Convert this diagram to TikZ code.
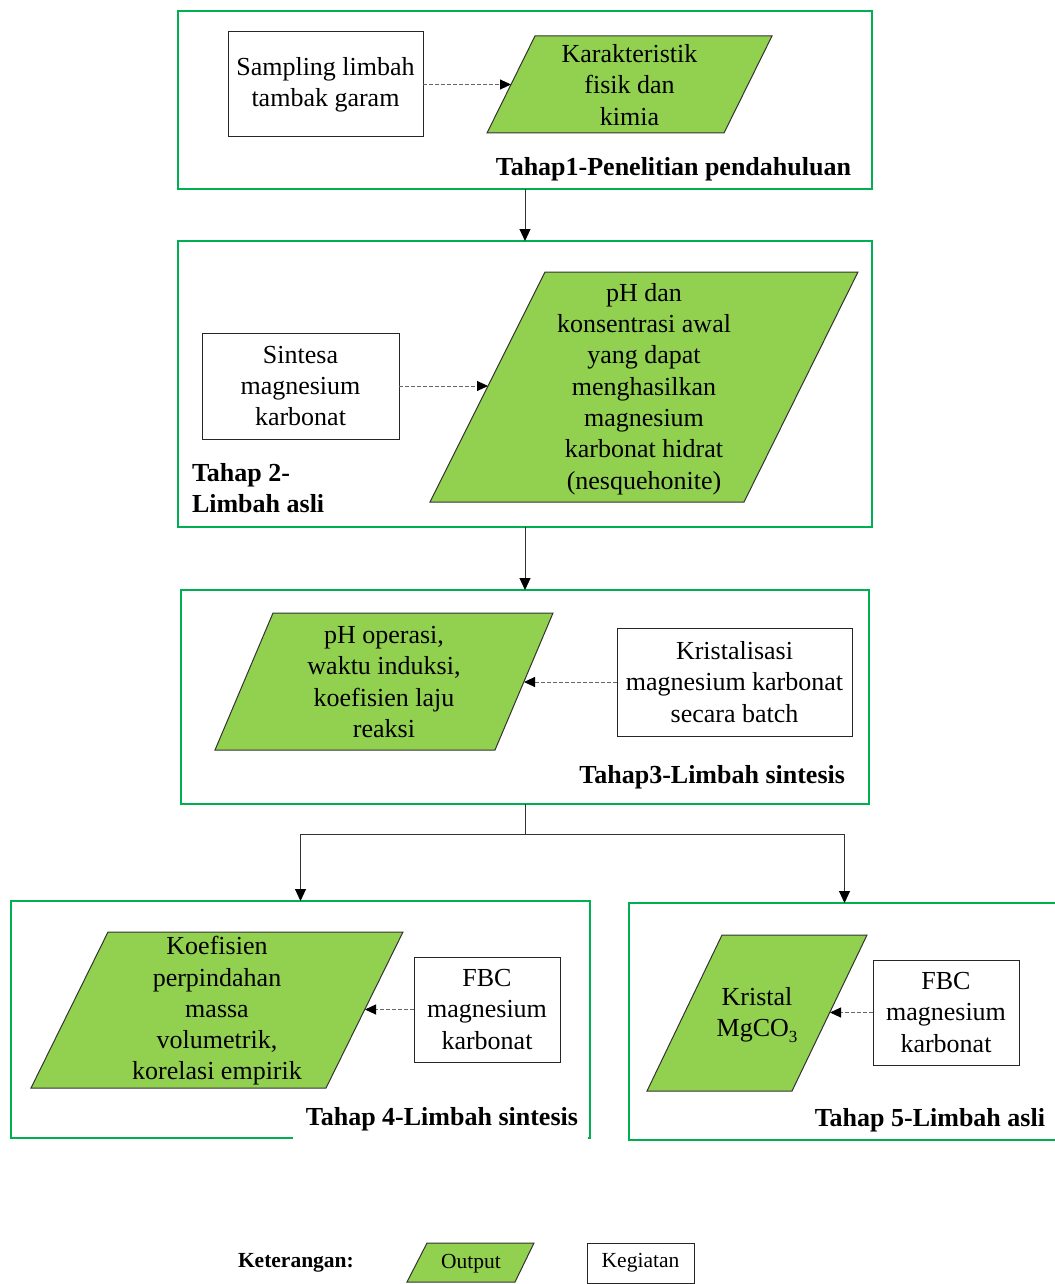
\documentclass[tikz,border=0pt]{standalone}
\usepackage{fontspec}
\setmainfont{Liberation Serif}
\usetikzlibrary{arrows.meta}
\definecolor{outfill}{HTML}{92D050}
\definecolor{framegreen}{HTML}{00B050}
\begin{document}
\begin{tikzpicture}[x=1pt,y=-1pt,
  every node/.style={font=\fontsize{26}{31.3}\selectfont, inner sep=0pt, outer sep=0pt},
  frame/.style={draw=framegreen, line width=2.6pt},
  act/.style={draw=black!85, line width=1pt, fill=white, align=center},
  outp/.style={draw=black!80, line width=1pt, fill=outfill},
  otext/.style={align=center},
  lbl/.style={font=\fontsize{26}{31}\selectfont\bfseries},
  small/.style={font=\fontsize{21.5}{25}\selectfont},
  flow/.style={-{Triangle[length=12pt,width=11pt,black]}, line width=1pt, draw=black!80},
  link/.style={line width=1pt, draw=black!80},
  dflow/.style={-{Triangle[length=11pt,width=10pt,black]}, dash pattern=on 4pt off 2pt, line width=0.9pt, draw=black!60},
]
\useasboundingbox (0,0) rectangle (1054,1284);

% stage frames
\node[frame, minimum width=694, minimum height=178] (f1) at (525,100) {};
\node[frame, minimum width=694, minimum height=286] (f2) at (525,384) {};
\node[frame, minimum width=688, minimum height=214] (f3) at (525,697) {};
\node[frame, minimum width=579, minimum height=237] (f4) at (300.5,1019.5) {};
\node[frame, minimum width=431, minimum height=237] (f5) at (844.5,1021.5) {};

% Stage 1
\node[act, minimum width=195, minimum height=105] (r1) at (325.5,84.5) {\raisebox{-2pt}{\parbox{190pt}{\centering Sampling limbah\\tambak garam}}};
\filldraw[outp] (535,36) -- (772,36) -- (724,133) -- (487,133) -- cycle;
\node[otext] (p1) at (629.5,85) {Karakteristik\\fisik dan\\kimia};
\coordinate (p1in) at (511,84.5);
\draw[dflow] (r1.east) -- (p1in);
\node[lbl, anchor=base east] (l1) at (851,176) {Tahap1-Penelitian pendahuluan};

% Stage 2
\node[act, minimum width=197, minimum height=106] (r2) at (300.5,386) {Sintesa\\magnesium\\karbonat};
\filldraw[outp] (545,272) -- (858,272) -- (744,502) -- (430,502) -- cycle;
\node[otext] (p2) at (644,389) {pH dan\\konsentrasi awal\\yang dapat\\menghasilkan\\magnesium\\karbonat hidrat\\(nesquehonite)};
\coordinate (p2in) at (488,386);
\draw[dflow] (r2.east) -- (p2in);
\node[lbl, anchor=west, align=left] (l2) at (192,488) {Tahap 2-\\Limbah asli};

% Stage 3
\filldraw[outp] (273,613) -- (553,613) -- (495,750) -- (215,750) -- cycle;
\node[otext] (p3) at (384,682) {pH operasi,\\waktu induksi,\\koefisien laju\\reaksi};
\node[act, minimum width=235, minimum height=108] (r3) at (734.5,682) {Kristalisasi\\magnesium karbonat\\secara batch};
\coordinate (p3in) at (524,682);
\draw[dflow] (r3.west) -- (p3in);
\node[lbl, anchor=base east] (l3) at (845,783) {Tahap3-Limbah sintesis};

% Stage 4
\filldraw[outp] (108,932) -- (403,932) -- (326,1088) -- (31,1088) -- cycle;
\node[otext] (p4) at (217,1011) {Koefisien\\perpindahan\\massa\\volumetrik,\\korelasi empirik};
\node[act, minimum width=146, minimum height=105] (r4) at (487,1009.5) {FBC\\magnesium\\karbonat};
\coordinate (p4in) at (365,1009.5);
\draw[dflow] (r4.west) -- (p4in);
\fill[white] (293,1100) rectangle (588,1141);
\node[lbl, anchor=base east] (l4) at (578,1125) {Tahap 4-Limbah sintesis};

% Stage 5
\filldraw[outp] (722,935) -- (867,935) -- (792,1091) -- (647,1091) -- cycle;
\node[otext] (p5) at (757,1015) {Kristal\\MgCO\raisebox{-0.22em}{\fontsize{17}{17}\selectfont 3}};
\node[act, minimum width=146, minimum height=105] (r5) at (946,1012.5) {FBC\\magnesium\\karbonat};
\coordinate (p5in) at (830,1012.5);
\draw[dflow] (r5.west) -- (p5in);
\node[lbl, anchor=base east] (l5) at (1045,1126) {Tahap 5-Limbah asli};

% connectors between stages
\draw[flow] (f1.south) -- (f2.north);
\draw[flow] (f2.south) -- (f3.north);
\coordinate (br) at (525,834);
\draw[link] (f3.south) -- (br);
\draw[flow] (br) -| (f4.north);
\draw[flow] (br) -| (f5.north);

% legend
\node[small, font=\fontsize{21.5}{25}\selectfont\bfseries, anchor=west] (ket) at (238,1263) {Keterangan:};
\filldraw[outp] (427,1243) -- (534,1243) -- (515,1282) -- (407,1282) -- cycle;
\node[small] (lo) at (471,1263.5) {Output};
\node[act, small, minimum width=107, minimum height=40] (lk) at (640.5,1263) {\raisebox{-1pt}{Kegiatan}};
\end{tikzpicture}
\end{document}
